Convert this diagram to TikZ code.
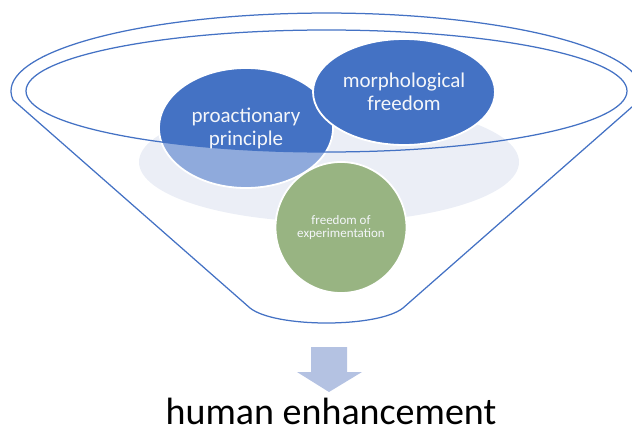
\documentclass[tikz,border=0pt]{standalone}
\usepackage{fontspec}
\setmainfont{Carlito}
\definecolor{fblue}{HTML}{4472C4}
\definecolor{flight}{HTML}{8FAADC}
\definecolor{fbg}{HTML}{EBEEF6}
\definecolor{fgreen}{HTML}{98B482}
\definecolor{farrow}{HTML}{B4C2E2}
\definecolor{ftext}{HTML}{F4F6FA}
\tikzset{
  rim/.style={draw=fblue, line width=1.25pt},
  bubbleedge/.style={draw=white, line width=1.8pt},
  biglabel/.style={text=ftext, align=center, font=\fontsize{21}{23}\selectfont, inner sep=0pt},
  smalllabel/.style={text=ftext, align=center, font=\fontsize{13}{13.5}\selectfont, inner sep=0pt},
}
\begin{document}
\begin{tikzpicture}[x=1pt,y=1pt]
\useasboundingbox (0,0) rectangle (632,432);
\clip (0,0) rectangle (632,432);
% light background ellipse
\fill[fbg] (329,270) ellipse[x radius=190pt, y radius=60pt];
% proactionary principle (two-tone)
\fill[flight] (246,304) ellipse[x radius=87pt, y radius=60pt];
\begin{scope}
  \clip (326.5,341) ellipse[x radius=300.5pt, y radius=61pt];
  \fill[fblue] (246,304) ellipse[x radius=87pt, y radius=60pt];
\end{scope}
\draw[bubbleedge] (246,304) ellipse[x radius=87pt, y radius=60pt];
% morphological freedom
\filldraw[fill=fblue, bubbleedge] (404,340) ellipse[x radius=91pt, y radius=53pt];
% freedom of experimentation
\filldraw[fill=fgreen, bubbleedge] (341,204.5) circle[radius=65.5pt];
% inner rim
\draw[rim] (326.5,341) ellipse[x radius=300.5pt, y radius=61pt];
% funnel outline
\draw[rim, line join=round] (13.1,332) arc[start angle=186.6, end angle=-6.6, x radius=315.5pt, y radius=78pt]
  -- (403,124) .. controls (378,104) and (275,104) .. (250,124) -- cycle;
% labels
\node[biglabel] (pp) at (246,304) {proactionary\\principle};
\node[biglabel] (mf) at (404,340.5) {morphological\\freedom};
\node[smalllabel] (fe) at (341,204.5) {freedom of\\experimentation};
% arrow
\fill[farrow] (311,85) -- (347,85) -- (347,60) -- (362,60) -- (329,40) -- (297,60) -- (311,60) -- cycle;
\node[anchor=base, inner sep=0pt, font=\fontsize{38}{40}\selectfont] (he) at (331,8) {human enhancement};
\end{tikzpicture}
\end{document}
